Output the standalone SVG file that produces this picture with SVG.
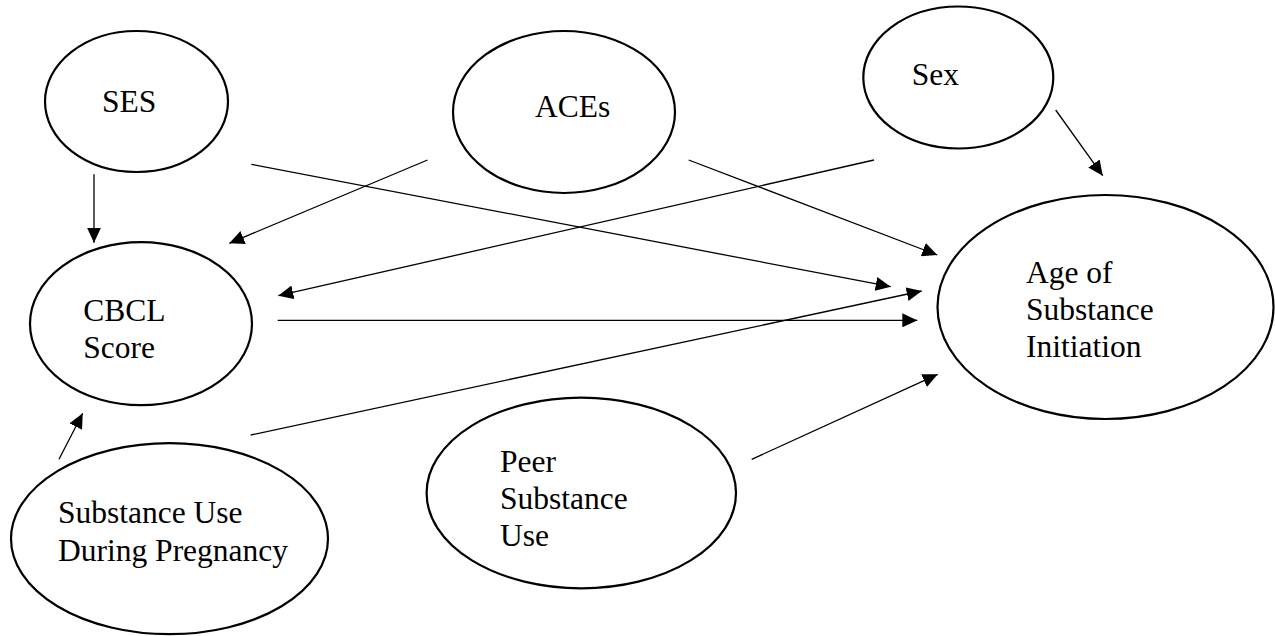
<svg xmlns="http://www.w3.org/2000/svg" width="1275" height="636" viewBox="0 0 1275 636">
<style>
.node ellipse{fill:#fff;stroke:#000;stroke-width:2.2}
.node text{font-family:"Liberation Serif","Times New Roman",serif;font-size:31.5px;fill:#000}
#connectors line{stroke:#000;stroke-width:1.3}
</style>
<defs>
<marker id="ah" markerUnits="userSpaceOnUse" markerWidth="15" markerHeight="14" refX="15" refY="7" orient="auto">
<path d="M0,0 L15,7 L0,14 z" fill="#000"/>
</marker>
</defs>
<rect width="1275" height="636" fill="#fff"/>
<g id="n-ses" class="node"><ellipse cx="136.5" cy="101.5" rx="91.5" ry="70.5"/><text x="102" y="112">SES</text></g>
<g id="n-aces" class="node"><ellipse cx="564" cy="112" rx="111" ry="81"/><text x="535" y="117">ACEs</text></g>
<g id="n-sex" class="node"><ellipse cx="958.3" cy="77.5" rx="95" ry="71"/><text x="911.7" y="85">Sex</text></g>
<g id="n-cbcl" class="node"><ellipse cx="141" cy="323.7" rx="111" ry="81.5"/><text x="83.3" y="320.7">CBCL</text><text x="83.3" y="358.3">Score</text></g>
<g id="n-sup" class="node"><ellipse cx="169.5" cy="538.7" rx="158.5" ry="95.5"/><text x="58" y="522.7">Substance Use</text><text x="58" y="561">During Pregnancy</text></g>
<g id="n-peer" class="node"><ellipse cx="581.3" cy="493" rx="154.7" ry="95.3"/><text x="500" y="472.3">Peer</text><text x="500" y="508.8">Substance</text><text x="500" y="545.7">Use</text></g>
<g id="n-age" class="node"><ellipse cx="1105.5" cy="307" rx="168" ry="112"/><text x="1026" y="283.3">Age of</text><text x="1026" y="319.8">Substance</text><text x="1026" y="356.7">Initiation</text></g>
<g id="connectors">
<line x1="94" y1="174.3" x2="94" y2="242.7" marker-end="url(#ah)"/>
<line x1="427.5" y1="160" x2="229.3" y2="243.3" marker-end="url(#ah)"/>
<line x1="251.3" y1="164.3" x2="890.7" y2="286.7" marker-end="url(#ah)"/>
<line x1="688.7" y1="160" x2="937.3" y2="255" marker-end="url(#ah)"/>
<line x1="1055.7" y1="110" x2="1102.7" y2="175.7" marker-end="url(#ah)"/>
<line x1="874" y1="160" x2="278.3" y2="295.7" marker-end="url(#ah)"/>
<line x1="277.7" y1="320.3" x2="917.3" y2="320.3" marker-end="url(#ah)"/>
<line x1="250.7" y1="435" x2="921.7" y2="291" marker-end="url(#ah)"/>
<line x1="59" y1="459.3" x2="82.7" y2="413.3" marker-end="url(#ah)"/>
<line x1="751.7" y1="459.3" x2="937.7" y2="374.3" marker-end="url(#ah)"/>
</g>
</svg>
